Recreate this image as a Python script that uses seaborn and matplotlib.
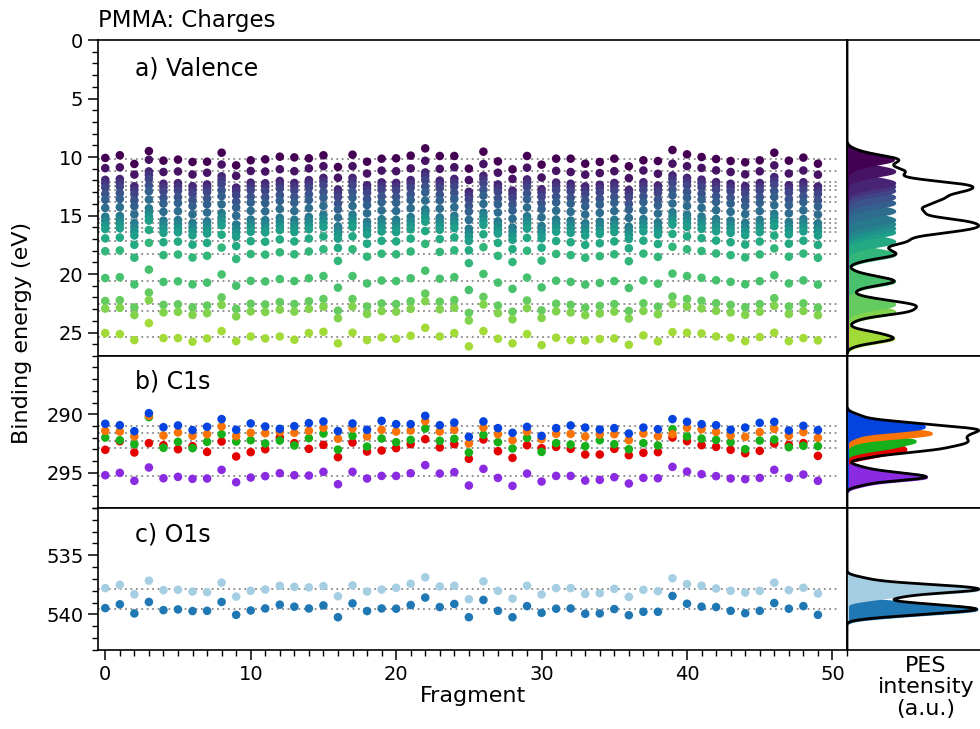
import numpy as np
import matplotlib
matplotlib.use("Agg")
import matplotlib.pyplot as plt
from matplotlib.ticker import MultipleLocator
import seaborn as sns
import pandas as pd

sns.set_theme(style="white")
plt.rcParams['font.family'] = ['DejaVu Sans']
for key in ["text.color", "axes.labelcolor", "xtick.color", "ytick.color", "axes.edgecolor"]:
    plt.rcParams[key] = "black"

fragments = list(range(50))

# ---------------- valence ----------------
valence_levels = [10.14, 11.05, 12.05, 12.35, 12.70, 13.25, 13.75, 14.45, 15.20, 15.55,
                  15.90, 16.25, 17.05, 18.15, 20.44, 22.40, 23.05, 25.18]
valence_top = [10.08, 9.85, 10.59, 9.49, 10.31, 10.22, 10.42, 10.40, 9.63, 10.71,
               10.28, 10.20, 9.97, 10.03, 10.11, 9.85, 10.85, 9.80, 10.40, 10.14,
               10.11, 9.88, 9.26, 9.91, 9.91, 10.99, 9.54, 10.37, 11.05, 9.91,
               10.65, 10.14, 10.14, 10.57, 10.42, 10.14, 10.79, 10.28, 10.34, 9.40,
               9.77, 10.00, 10.17, 10.34, 10.45, 10.28, 9.63, 10.31, 10.05, 10.57]
valence_bottom = [25.04, 25.13, 25.64, 24.19, 25.47, 25.47, 25.78, 25.50, 24.87, 25.73,
                  25.33, 25.50, 25.33, 25.61, 25.04, 24.93, 25.92, 25.01, 25.64, 25.41,
                  25.53, 25.27, 24.59, 25.33, 25.04, 26.18, 24.87, 25.53, 25.92, 25.13,
                  26.07, 25.44, 25.64, 25.67, 25.55, 25.50, 26.04, 25.24, 25.75, 24.96,
                  25.01, 25.07, 25.33, 25.44, 25.73, 25.38, 25.01, 25.73, 25.47, 25.67]
valence_shift = [-0.10, -0.17, 0.45, -0.82, 0.23, 0.18, 0.44, 0.29, -0.41, 0.56,
                 0.14, 0.19, -0.01, 0.16, -0.08, -0.27, 0.72, -0.27, 0.36, 0.11,
                 0.16, -0.08, -0.73, -0.04, -0.18, 0.92, -0.45, 0.29, 0.82, -0.14,
                 0.70, 0.13, 0.23, 0.46, 0.32, 0.16, 0.75, 0.10, 0.38, -0.48,
                 -0.27, -0.12, 0.09, 0.23, 0.43, 0.17, -0.34, 0.36, 0.10, 0.46]

# ---------------- C 1s ----------------
c1s_names = ["C1", "C2", "C3", "C4", "C5"]
c1s_colors = ["#0343df", "#f97306", "#15b01a", "#e50000", "#8a2be2"]
c1s_c1 = [290.81, 290.93, 291.44, 289.90, 291.10, 290.95, 291.35, 291.07, 290.41, 291.32,
          290.78, 291.04, 291.24, 291.01, 290.75, 290.61, 291.44, 290.78, 291.32, 290.56,
          290.84, 290.84, 290.13, 290.93, 290.70, 291.92, 290.61, 291.18, 291.58, 291.07,
          291.84, 291.18, 290.95, 291.13, 291.30, 291.18, 291.64, 291.13, 291.27, 290.41,
          290.64, 290.84, 290.93, 291.32, 291.13, 290.73, 290.64, 291.38, 290.98, 291.35]
c1s_c2 = [291.41, 291.47, 291.89, 290.13, 291.81, 291.55, 291.84, 291.70, 291.04, 291.87,
          291.58, 291.61, 291.50, 291.58, 291.41, 291.15, 292.09, 291.21, 291.89, 291.32,
          291.47, 291.38, 290.58, 291.47, 291.32, 292.49, 291.13, 291.70, 292.21, 291.47,
          292.12, 291.67, 291.67, 291.89, 291.72, 291.70, 292.21, 291.64, 291.87, 291.70,
          291.15, 291.27, 291.50, 291.81, 291.92, 291.52, 291.24, 291.84, 291.52, 292.01]
c1s_c3 = [291.98, 292.21, 292.55, 290.24, 292.86, 292.35, 292.89, 292.35, 291.70, 292.32,
          292.21, 292.49, 292.24, 292.66, 292.04, 291.64, 293.01, 291.84, 292.75, 292.07,
          292.38, 292.18, 291.21, 292.26, 292.09, 293.26, 291.75, 292.38, 292.92, 292.01,
          293.21, 292.46, 292.58, 292.72, 292.21, 292.55, 292.98, 292.46, 292.66, 291.27,
          291.89, 292.07, 292.18, 292.38, 292.98, 292.24, 292.15, 292.81, 292.69, 292.72]
c1s_c4 = [293.03, 292.30, 293.26, 292.46, 292.64, 292.98, 292.72, 293.21, 292.32, 293.60,
          293.23, 292.98, 291.98, 292.46, 292.95, 292.61, 293.66, 292.41, 293.18, 293.09,
          292.89, 292.55, 292.12, 292.83, 292.55, 293.80, 292.15, 293.15, 293.72, 292.64,
          292.89, 292.78, 292.95, 293.43, 293.43, 292.95, 293.49, 293.29, 293.23, 291.98,
          292.29, 292.64, 292.78, 293.03, 293.32, 293.12, 292.49, 292.61, 292.46, 293.55]
c1s_c5 = [295.20, 295.00, 295.68, 294.54, 295.46, 295.34, 295.51, 295.48, 294.74, 295.80,
          295.40, 295.28, 295.03, 295.20, 295.23, 294.91, 295.97, 294.91, 295.48, 295.26,
          295.26, 295.03, 294.34, 295.06, 294.94, 296.08, 294.66, 295.43, 296.11, 295.06,
          295.74, 295.26, 295.26, 295.66, 295.60, 295.37, 295.91, 295.43, 295.46, 294.49,
          294.89, 295.11, 295.28, 295.48, 295.54, 295.43, 294.74, 295.43, 295.14, 295.68]

# ---------------- O 1s ----------------
o1s_names = ["O1", "O2"]
o1s_colors = ["#a6cee3", "#1f78b4"]
o1s_o1 = [537.77, 537.49, 538.29, 537.14, 537.94, 537.91, 538.06, 538.11, 537.31, 538.49,
          538.00, 537.89, 537.57, 537.66, 537.71, 537.60, 538.46, 537.54, 538.06, 537.89,
          537.74, 537.40, 536.86, 537.63, 537.57, 538.71, 537.20, 538.00, 538.66, 537.57,
          538.31, 537.77, 537.77, 538.26, 538.20, 537.83, 538.51, 537.91, 538.03, 536.94,
          537.43, 537.57, 537.80, 538.00, 538.14, 538.00, 537.31, 537.94, 537.74, 538.23]
o1s_o2 = [539.46, 539.14, 539.91, 538.94, 539.63, 539.57, 539.71, 539.69, 538.94, 540.03,
          539.66, 539.49, 539.17, 539.34, 539.49, 539.23, 540.23, 539.06, 539.71, 539.49,
          539.51, 539.20, 538.57, 539.37, 539.11, 540.23, 538.77, 539.69, 540.23, 539.29,
          539.86, 539.51, 539.49, 539.94, 539.91, 539.54, 540.06, 539.77, 539.77, 538.43,
          539.09, 539.34, 539.37, 539.69, 539.89, 539.69, 539.03, 539.51, 539.29, 540.03]

# ------------- assemble tables -------------
nval = len(valence_levels)
val_rows = []
for k in range(nval):
    for f in fragments:
        if k == 0:
            e = valence_top[f]
        elif k == nval - 1:
            e = valence_bottom[f]
        else:
            e = valence_levels[k] + valence_shift[f]
        val_rows.append((f, "L%02d" % k, e))
df_val = pd.DataFrame(val_rows, columns=["fragment", "level", "energy"])
val_colors = [matplotlib.colormaps["viridis"](v) for v in np.linspace(0.0, 0.86, nval)]
val_names = ["L%02d" % k for k in range(nval)]

c1s_data = [c1s_c1, c1s_c2, c1s_c3, c1s_c4, c1s_c5]
o1s_data = [o1s_o1, o1s_o2]


def long_df(names, data):
    rows = []
    for n, vals in zip(names, data):
        for f, e in zip(fragments, vals):
            rows.append((f, n, e))
    return pd.DataFrame(rows, columns=["fragment", "level", "energy"])


df_c1s = long_df(c1s_names, c1s_data)
df_o1s = long_df(o1s_names, o1s_data)

# ------------- figure -------------
W, H = 980, 729
fig = plt.figure(figsize=(W / 100, H / 100), dpi=100)


def rect(x0, y0, x1, y1):
    return [x0 / W, 1 - y1 / H, (x1 - x0) / W, (y1 - y0) / H]


rows_px = [(40, 356), (356, 508), (508, 650)]
ylims = [(27, 0), (298, 285.02), (543, 531)]
left_axes, right_axes = [], []
for i, (ya, yb) in enumerate(rows_px):
    axl = fig.add_axes(rect(98, ya, 847, yb))
    axr = fig.add_axes(rect(847, ya, 1005, yb), sharey=axl)
    left_axes.append(axl)
    right_axes.append(axr)

panels = [
    (df_val, val_names, val_colors, "a) Valence"),
    (df_c1s, c1s_names, c1s_colors, "b) C1s"),
    (df_o1s, o1s_names, o1s_colors, "c) O1s"),
]
label_y = [0.91, 0.83, 0.81]
sigmas = [0.25, 0.2, 0.2]

for i, (df, names, cols, lab) in enumerate(panels):
    axl, axr = left_axes[i], right_axes[i]
    sigma = sigmas[i]
    order = names if i == 0 else names[::-1]
    dfo = pd.concat([df[df.level == n] for n in order])
    sns.scatterplot(data=dfo, x="fragment", y="energy", hue="level",
                    hue_order=names, palette=cols, s=38, linewidth=0,
                    legend=False, ax=axl, zorder=3)
    means = [df[df.level == n].energy.mean() for n in names]
    axl.hlines(means, -0.5, 50.5, colors="#888888", linestyles=(0, (1, 2)),
               linewidth=1.3, zorder=1)
    axl.set_xlim(-0.5, 51)
    axl.set_ylim(*ylims[i])
    axl.set_ylabel("")
    axl.set_xlabel("")
    axl.text(0.05, label_y[i], lab, transform=axl.transAxes, fontsize=17,
             va="center", ha="left")
    axl.yaxis.set_major_locator(MultipleLocator(5))
    axl.yaxis.set_minor_locator(MultipleLocator(1))
    axl.xaxis.set_major_locator(MultipleLocator(10))
    axl.xaxis.set_minor_locator(MultipleLocator(1))
    axl.tick_params(axis="y", which="major", direction="out", length=7, width=1.1,
                    labelsize=14, left=True)
    axl.tick_params(axis="y", which="minor", direction="out", length=4, width=1.0, left=True)
    if i < 2:
        axl.tick_params(axis="x", which="both", bottom=False, labelbottom=False)
    else:
        axl.tick_params(axis="x", which="major", direction="out", length=7, width=1.1,
                        labelsize=14, bottom=True)
        axl.tick_params(axis="x", which="minor", direction="out", length=4, width=1.0,
                        bottom=True)
        axl.set_xlabel("Fragment", fontsize=16, labelpad=2)

    # spectrum
    lo, hi = min(ylims[i]), max(ylims[i])
    emin = df.energy.min() - 0.45
    emax = df.energy.max() + 0.45
    eg = np.linspace(emin, emax, 1500)
    ef = np.linspace(lo, hi, 3000)
    specs = []
    for n in names:
        vals = df[df.level == n].energy.values
        specs.append(np.exp(-(eg[:, None] - vals[None, :]) ** 2 / (2 * sigma ** 2)).sum(axis=1))
    total = np.zeros_like(ef)
    for n in names:
        vals = df[df.level == n].energy.values
        total += np.exp(-(ef[:, None] - vals[None, :]) ** 2 / (2 * sigma ** 2)).sum(axis=1)
    for k in range(len(names) - 1, -1, -1):
        axr.fill_betweenx(eg, 0, specs[k], facecolor=cols[k], edgecolor=cols[k],
                          linewidth=2.0, zorder=2)
    axr.plot(total, ef, color="black", linewidth=2.0, zorder=4)
    axr.set_xlim(0, total.max() * 1.2)
    axr.tick_params(axis="both", which="both", left=False, bottom=False,
                    labelleft=False, labelbottom=False)
    axr.set_ylabel("")
    if i == 2:
        axr.set_xlabel("PES\nintensity\n(a.u.)", fontsize=16, labelpad=4,
                       linespacing=1.1)

for ax in left_axes + right_axes:
    for sp in ax.spines.values():
        sp.set_color("black")
        sp.set_linewidth(1.2)

fig.text(98 / W, 1 - 20 / H, "PMMA: Charges", fontsize=16.5, ha="left", va="center")
fig.text(22 / W, 1 - 333 / H, "Binding energy (eV)", fontsize=16, rotation=90,
         ha="center", va="center")

fig.savefig("out.png", dpi=100)
